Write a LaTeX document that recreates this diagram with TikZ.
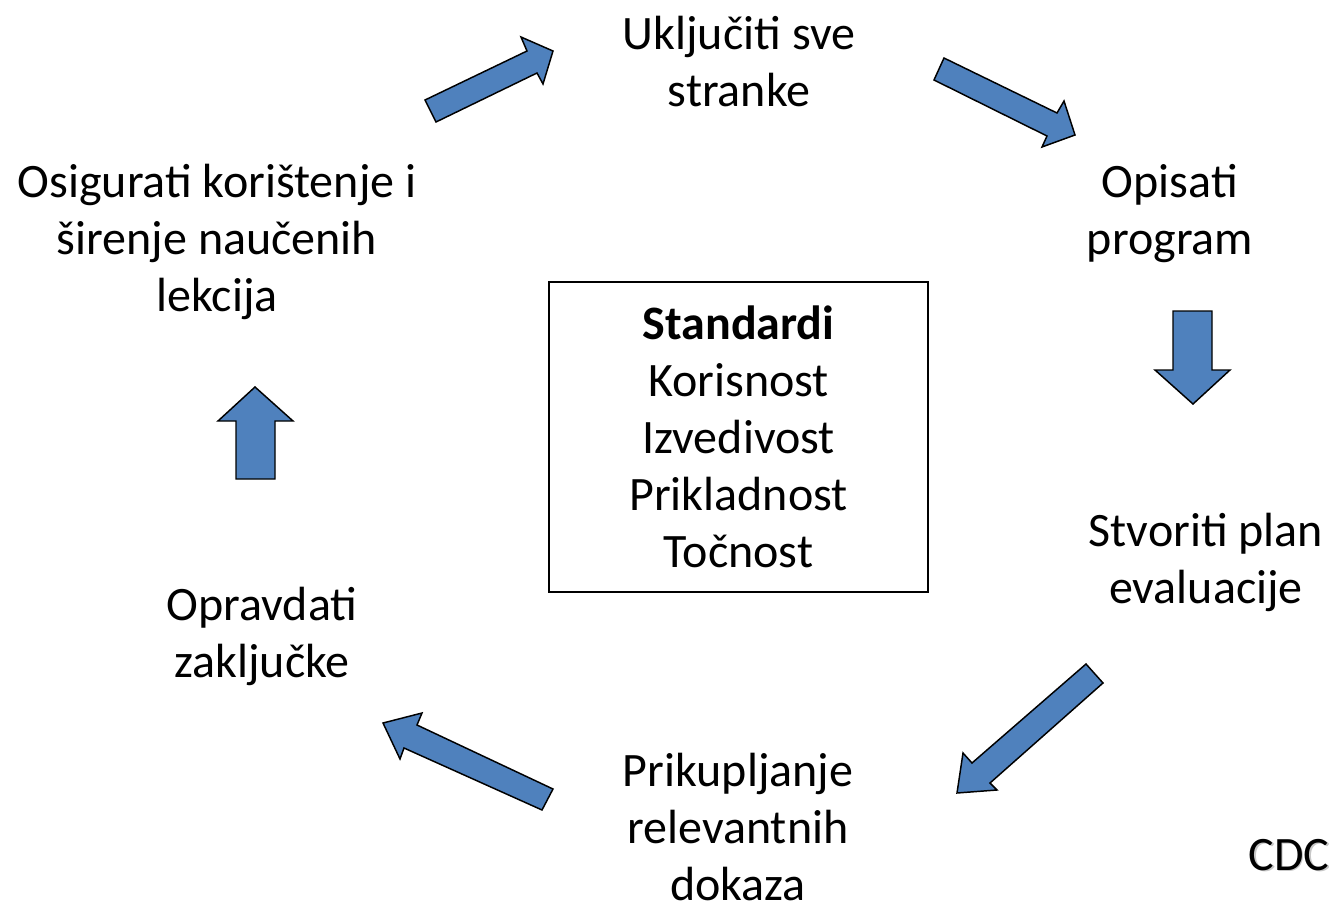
\documentclass[tikz,border=0pt]{standalone}
\usepackage{fontspec}
\setmainfont{Carlito}
\definecolor{arrowblue}{HTML}{4F81BD}
\tikzset{
  lbl/.style={align=center, inner sep=0pt, font=\fontsize{36}{42.75}\selectfont},
  blockarrow/.style={fill=arrowblue, draw=black, line width=1.1pt, line join=miter},
  stdbox/.style={draw=black, line width=0.9pt}
}
\begin{document}
\begin{tikzpicture}[x=0.75pt, y=-0.75pt]
\useasboundingbox (0,0) rectangle (1329,907);
\fill[white] (0,0) rectangle (1329,907);

% texts
\node[lbl] (ukljuciti) at (739,62) {Uključiti sve\\stranke};
\node[lbl] (opisati) at (1170,214) {Opisati\\program};
\node[lbl] (stvoriti) at (1206,562) {Stvoriti plan\\evaluacije};
\node[lbl] (prikupljanje) at (738,827) {Prikupljanje\\relevantnih\\dokaza};
\node[lbl] (opravdati) at (262,636) {Opravdati\\zaključke};
\node[lbl] (osigurati) at (217,242) {Osigurati korištenje i\\širenje naučenih\\lekcija};

% central box
\draw[stdbox] (549,282) rectangle (928,592);
\node[lbl] (standardi) at (738.5,437) {\textbf{Standardi}\\Korisnost\\Izvedivost\\Prikladnost\\Točnost};

% CDC with soft shadow
\node[lbl, text=black!22] (cdcshadow) at (1290.5,856.5) {CDC};
\node[lbl] (cdc) at (1289,855) {CDC};

% block arrows
\draw[blockarrow] (425,100) -- (527,51) -- (521,37) -- (553,51) -- (543,84) -- (537,73) -- (436,122) -- cycle;
\draw[blockarrow] (944,58) -- (1057,113) -- (1064,101) -- (1075,135) -- (1042,147) -- (1047,136) -- (934,80) -- cycle;
\draw[blockarrow] (1173,311) -- (1212,311) -- (1212,370) -- (1230,370) -- (1193,404) -- (1155,370) -- (1173,370) -- cycle;
\draw[blockarrow] (1086,664) -- (1103,683) -- (990,783) -- (997,790) -- (957,793) -- (963,753) -- (972,763) -- cycle;
\draw[blockarrow] (553,789) -- (417,725) -- (422,713) -- (383,723) -- (400,759) -- (404,748) -- (542,810) -- cycle;
\draw[blockarrow] (236,479) -- (236,421) -- (218,421) -- (255,387) -- (293,421) -- (275,421) -- (275,479) -- cycle;
\end{tikzpicture}
\end{document}
